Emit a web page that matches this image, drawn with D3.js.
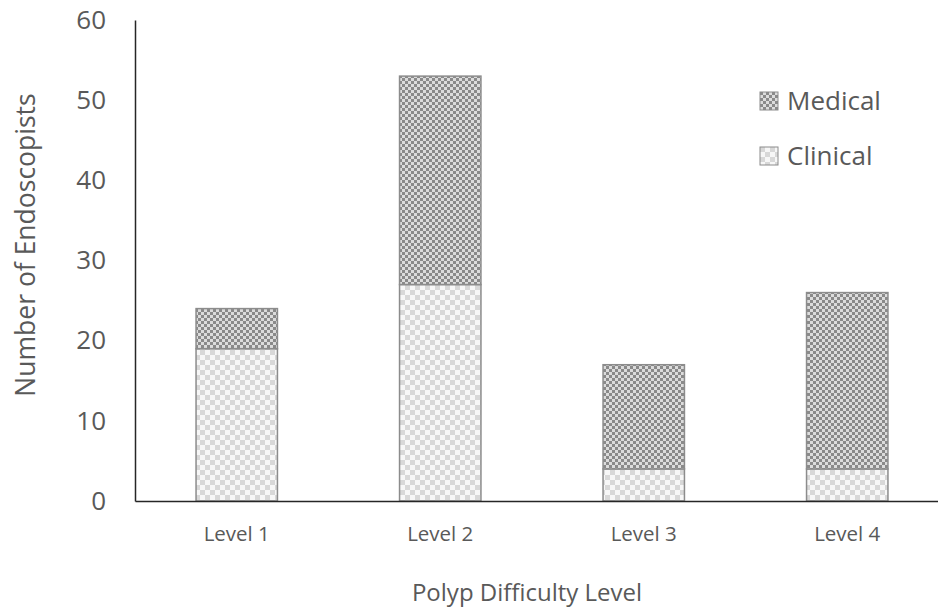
<!DOCTYPE html>
<html>
<head>
<meta charset="utf-8">
<script src="https://cdn.jsdelivr.net/npm/d3@7"></script>
<style>
  html, body { margin: 0; padding: 0; background: #fff; }
  svg { display: block; font-family: "Open Sans", "Noto Sans", sans-serif; }
</style>
</head>
<body>
<svg id="chart" width="938" height="612"></svg>
<script>
// Endoscopists per polyp difficulty level, stacked by training focus
const categories = ["Level 1", "Level 2", "Level 3", "Level 4"];
const clinical = [19, 27, 4, 4];
const medical = [5, 26, 13, 22];
const seriesNames = ["Clinical", "Medical"];
const yTicks = [0, 10, 20, 30, 40, 50, 60];

const svg = d3.select("#chart");
const margin = { left: 135, right: -11, top: 20, bottom: 111 };
const W = 938, H = 612;
const textColor = "#595959";

// Fill patterns: fine dark checker for Medical, coarse light checker for Clinical
const defs = svg.append("defs");
const pm = defs.append("pattern").attr("id", "pat-medical")
  .attr("patternUnits", "userSpaceOnUse").attr("width", 6).attr("height", 6);
pm.append("rect").attr("width", 6).attr("height", 6).attr("fill", "#dcdcdc");
pm.append("rect").attr("width", 3).attr("height", 3).attr("fill", "#8a8a8a");
pm.append("rect").attr("x", 3).attr("y", 3).attr("width", 3).attr("height", 3).attr("fill", "#8a8a8a");

const pc = defs.append("pattern").attr("id", "pat-clinical")
  .attr("patternUnits", "userSpaceOnUse").attr("width", 10).attr("height", 10);
pc.append("rect").attr("width", 10).attr("height", 10).attr("fill", "#f7f7f7");
pc.append("rect").attr("width", 5).attr("height", 5).attr("fill", "#d8d8d8");
pc.append("rect").attr("x", 5).attr("y", 5).attr("width", 5).attr("height", 5).attr("fill", "#d8d8d8");

const fills = { Clinical: "url(#pat-clinical)", Medical: "url(#pat-medical)" };

const x = d3.scaleBand().domain(categories)
  .range([margin.left, W - margin.right])
  .paddingInner(0.6).paddingOuter(0.3);
const y = d3.scaleLinear().domain([0, 60]).range([H - margin.bottom, margin.top]);

const rows = categories.map((c, i) => ({ cat: c, Clinical: clinical[i], Medical: medical[i] }));
const stacked = d3.stack().keys(seriesNames)(rows);

// Bars
svg.append("g").selectAll("g").data(stacked).join("g")
  .attr("fill", d => fills[d.key])
  .selectAll("rect").data(d => d).join("rect")
  .attr("x", d => x(d.data.cat))
  .attr("width", x.bandwidth())
  .attr("y", d => y(d[1]))
  .attr("height", d => y(d[0]) - y(d[1]))
  .attr("stroke", "#8c8c8c")
  .attr("stroke-width", 1.5);

// Y axis
const yAxis = svg.append("g").attr("transform", `translate(${margin.left},0)`)
  .call(d3.axisLeft(y).tickValues(yTicks).tickSize(0).tickPadding(29));
yAxis.select(".domain").attr("stroke", "#262626").attr("stroke-width", 1.5);
yAxis.selectAll("text").attr("fill", textColor).attr("font-size", 26)
  .attr("font-family", "\"Open Sans\", sans-serif");

// X axis
const xAxis = svg.append("g").attr("transform", `translate(0,${H - margin.bottom})`)
  .call(d3.axisBottom(x).tickSize(0));
xAxis.select(".domain").attr("stroke", "#262626").attr("stroke-width", 1.5);
xAxis.selectAll("text").attr("fill", textColor).attr("font-size", 20.5)
  .attr("font-family", "\"Open Sans\", sans-serif")
  .attr("dy", null).attr("y", 40);

// Axis titles
svg.append("text")
  .attr("x", 527).attr("y", 601)
  .attr("text-anchor", "middle")
  .attr("fill", textColor).attr("font-size", 24)
  .text("Polyp Difficulty Level");

svg.append("text")
  .attr("transform", "translate(35,245) rotate(-90)")
  .attr("text-anchor", "middle")
  .attr("fill", textColor).attr("font-size", 26.5)
  .text("Number of Endoscopists");

// Legend
const legendItems = ["Medical", "Clinical"];
const legend = svg.append("g");
legendItems.forEach((name, i) => {
  const g = legend.append("g").attr("transform", `translate(760,${92 + i * 55})`);
  g.append("rect").attr("width", 18).attr("height", 18)
    .attr("fill", fills[name]).attr("stroke", "#8c8c8c").attr("stroke-width", 1);
  g.append("text").attr("x", 27).attr("y", 18)
    .attr("fill", textColor).attr("font-size", 26)
    .text(name);
});
</script>
</body>
</html>
